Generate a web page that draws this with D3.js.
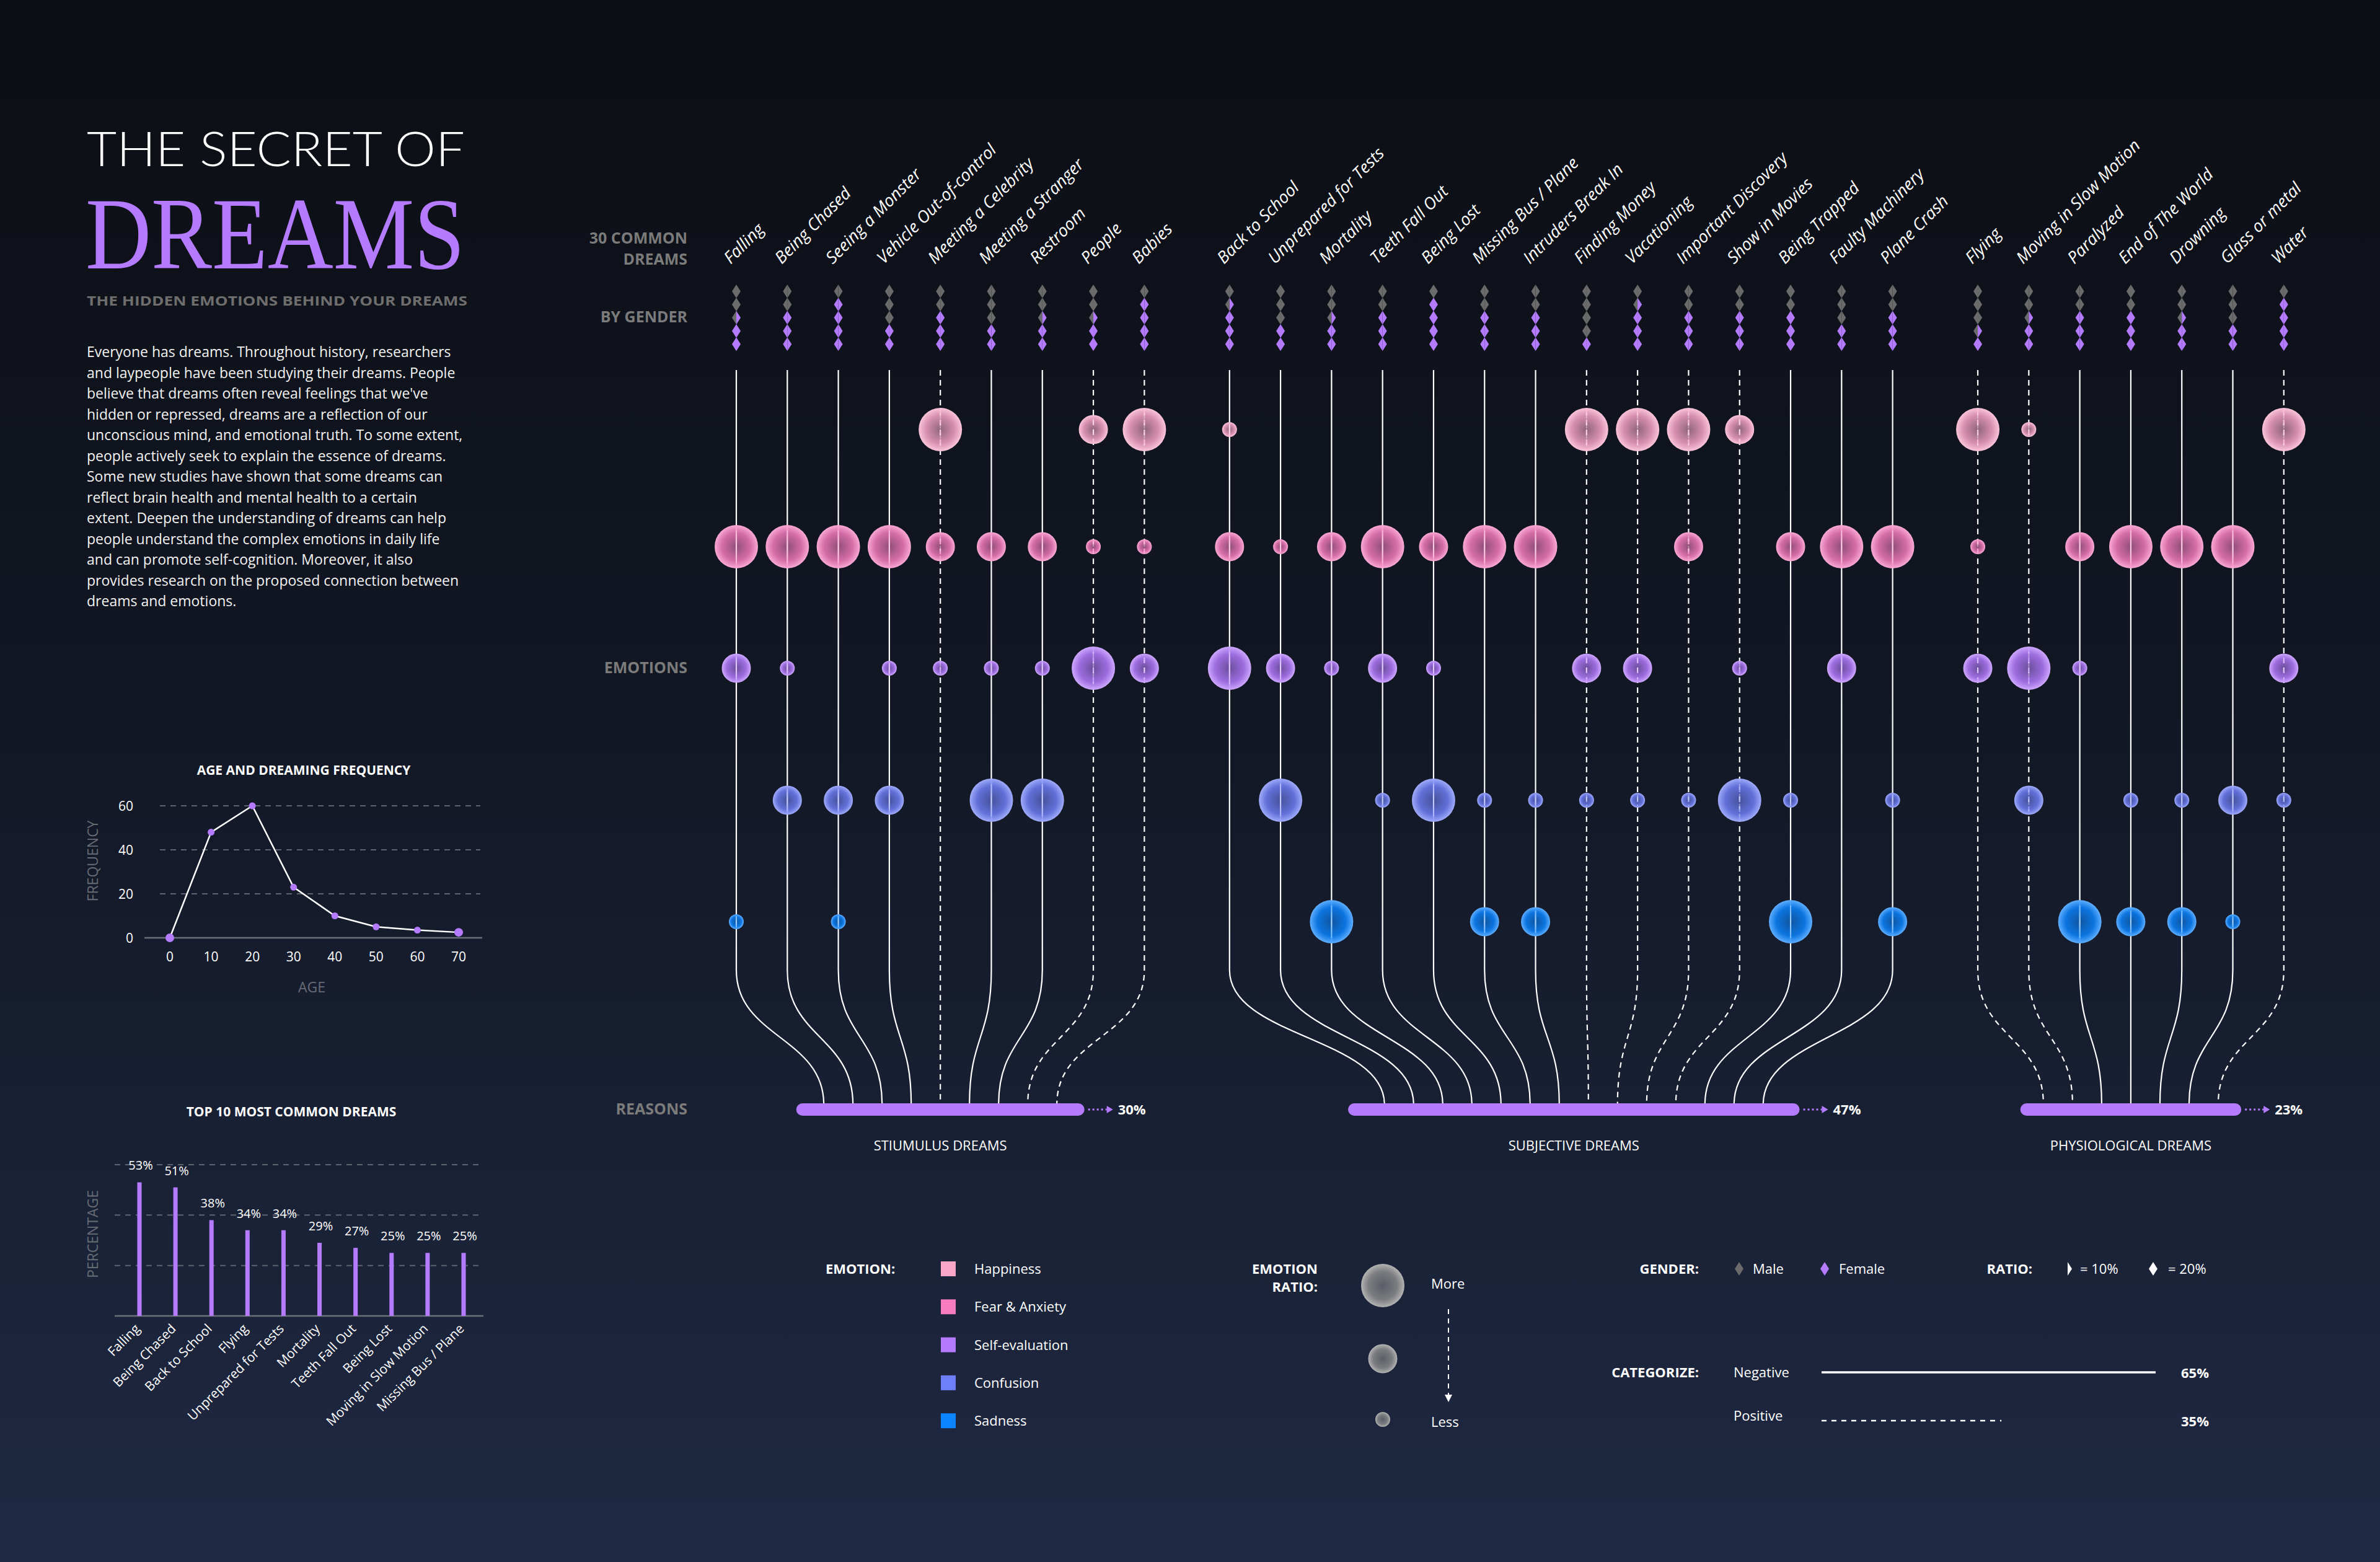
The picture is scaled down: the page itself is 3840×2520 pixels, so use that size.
<!DOCTYPE html>
<html><head><meta charset="utf-8">
<script src="https://cdn.jsdelivr.net/npm/d3@7"></script>
<style>
body{margin:0;background:#0d0f14;}
svg{display:block;}
</style>
</head><body>
<svg id="c" width="3840" height="2520" font-family="'Open Sans', Lato, 'Noto Sans', sans-serif"></svg>
<script>
// ---------------- DATA ----------------
const dreams = ["Falling","Being Chased","Seeing a Monster","Vehicle Out-of-control","Meeting a Celebrity","Meeting a Stranger","Restroom","People","Babies",
  "Back to School","Unprepared for Tests","Mortality","Teeth Fall Out","Being Lost","Missing Bus / Plane","Intruders Break In","Finding Money","Vacationing","Important Discovery","Show in Movies","Being Trapped","Faulty Machinery","Plane Crash",
  "Flying","Moving in Slow Motion","Paralyzed","End of The World","Drowning","Glass or metal","Water"];
const dreamReason = [0,0,0,0,0,0,0,0,0, 1,1,1,1,1,1,1,1,1,1,1,1,1,1, 2,2,2,2,2,2,2];
const malePct = [50,40,20,60,40,60,50,50,20, 30,60,50,40,20,40,40,80,30,40,40,40,60,40, 70,50,40,40,50,60,20];
const positiveDreams = ["Meeting a Celebrity","People","Babies","Finding Money","Vacationing","Important Discovery","Show in Movies","Flying","Moving in Slow Motion","Water"];

const emotions = ["Happiness","Fear & Anxiety","Self-evaluation","Confusion","Sadness"];
const emotionColors = ["#f9a6c8","#f77cbf","#b57bff","#6f7ff7","#0a84ff"];
// emotion ratio level: 0 none, 1 less, 2 medium, 3 more
const happiness  = [0,0,0,0,3,0,0,2,3, 1,0,0,0,0,0,0,3,3,3,2,0,0,0, 3,1,0,0,0,0,3];
const fear       = [3,3,3,3,2,2,2,1,1, 2,1,2,3,2,3,3,0,0,2,0,2,3,3, 1,0,2,3,3,3,0];
const selfEval   = [2,1,0,1,1,1,1,3,2, 3,2,1,2,1,0,0,2,2,0,1,0,2,0, 2,3,1,0,0,0,2];
const confusion  = [0,2,2,2,0,3,3,0,0, 0,3,0,1,3,1,1,1,1,1,3,1,0,1, 0,2,0,1,1,2,1];
const sadness    = [1,0,1,0,0,0,0,0,0, 0,0,3,0,0,2,2,0,0,0,0,3,0,2, 0,0,3,2,2,1,0];
const emotionLevels = [happiness, fear, selfEval, confusion, sadness];

const reasons = ["STIUMULUS DREAMS","SUBJECTIVE DREAMS","PHYSIOLOGICAL DREAMS"];
const reasonPct = [30,47,23];

const ages = [0,10,20,30,40,50,60,70];
const ageFreq = [0,48,60,23,10,5,3.5,2.5];
const freqTicks = [0,20,40,60];

const topDreams = ["Falling","Being Chased","Back to School","Flying","Unprepared for Tests","Mortality","Teeth Fall Out","Being Lost","Moving in Slow Motion","Missing Bus / Plane"];
const topPct = [53,51,38,34,34,29,27,25,25,25];
const pctGrid = [20,40,60];

const categorize = ["Negative","Positive"];
const categorizePct = [65,35];

const paragraph = [
 "Everyone has dreams. Throughout history, researchers",
 "and laypeople have been studying their dreams. People",
 "believe that dreams often reveal feelings that we've",
 "hidden or repressed, dreams are a reflection of our",
 "unconscious mind, and emotional truth. To some extent,",
 "people actively seek to explain the essence of dreams.",
 "Some new studies have shown that some dreams can",
 "reflect brain health and mental health to a certain",
 "extent. Deepen the understanding of dreams can help",
 "people understand the complex emotions in daily life",
 "and can promote self-cognition. Moreover, it also",
 "provides research on the proposed connection between",
 "dreams and emotions."];

// ---------------- SETUP ----------------
const svg = d3.select("#c");
const defs = svg.append("defs");
const PURPLE = "#b57bff", GRAY = "#6b6b6b";

const bg = defs.append("linearGradient").attr("id","bg").attr("x1",0).attr("x2",0).attr("y1",0).attr("y2",1);
bg.append("stop").attr("offset","0%").attr("stop-color","#0c0e13");
bg.append("stop").attr("offset","45%").attr("stop-color","#121724");
bg.append("stop").attr("offset","100%").attr("stop-color","#1f2943");
svg.append("rect").attr("width",3840).attr("height",2520).attr("fill","url(#bg)");

function bubbleGrad(id, col){
  const g = defs.append("radialGradient").attr("id",id);
  g.append("stop").attr("offset","0%").attr("stop-color",col).attr("stop-opacity",0.55);
  g.append("stop").attr("offset","65%").attr("stop-color",col).attr("stop-opacity",0.85);
  g.append("stop").attr("offset","100%").attr("stop-color",d3.interpolateRgb(col,"#ffffff")(0.35)).attr("stop-opacity",1);
}
emotionColors.forEach((c,i)=>bubbleGrad("eg"+i,c));
bubbleGrad("eggray","#8c8c8c");

// ---------------- TITLE BLOCK ----------------
svg.append("text").attr("x",140).attr("y",268).attr("fill","#fff")
  .attr("font-size",76).attr("font-weight",300).attr("font-family","Lato, 'Open Sans', sans-serif")
  .attr("textLength",610).attr("lengthAdjust","spacingAndGlyphs")
  .text("THE SECRET OF");
svg.append("text").attr("x",138).attr("y",433).attr("fill",PURPLE)
  .attr("font-size",166).attr("font-family","'Liberation Serif','DejaVu Serif',serif").attr("font-weight",400)
  .attr("textLength",612).attr("lengthAdjust","spacingAndGlyphs")
  .text("DREAMS");
svg.append("text").attr("x",140).attr("y",493).attr("fill","#6e6e6e")
  .attr("font-size",22).attr("font-weight",700).attr("textLength",614).attr("lengthAdjust","spacingAndGlyphs")
  .text("THE HIDDEN EMOTIONS BEHIND YOUR DREAMS");
svg.append("g").selectAll("text").data(paragraph).join("text")
  .attr("x",140).attr("y",(d,i)=>576+i*33.5).attr("fill","#f2f2f2").attr("font-size",23)
  .text(d=>d);

// ---------------- MAIN CHART ----------------
const slot = dreams.map((d,i)=>i + dreamReason[i]*0.67);
const x = d3.scaleLinear().domain([0,30.33]).range([1188,3684]);
const colX = slot.map(s=>x(s));
const yEmo = d3.scaleOrdinal().domain(emotions).range([693,882,1078,1291,1487]);
const rScale = d3.scaleLinear().domain([1,3]).range([12,35]);
const lineTop = 597, bendY = 1565, barY = 1790, barH = 20;
const pctW = d3.scaleLinear().domain([0,100]).range([0,1550]);
const endSpacing = 47;

// Row labels
const rowLab = svg.append("g").attr("fill","#7b7b7b").attr("font-size",25).attr("font-weight",700).attr("text-anchor","end");
rowLab.append("text").attr("x",1109).attr("y",393).text("30 COMMON");
rowLab.append("text").attr("x",1109).attr("y",427).text("DREAMS");
rowLab.append("text").attr("x",1109).attr("y",520).text("BY GENDER");
rowLab.append("text").attr("x",1109).attr("y",1086).text("EMOTIONS");
rowLab.append("text").attr("x",1109).attr("y",1798).text("REASONS");

// Dream labels
svg.append("g").selectAll("text").data(dreams).join("text")
  .attr("transform",(d,i)=>`translate(${colX[i]-9},${427}) rotate(-45)`)
  .attr("fill","#fff").attr("font-size",27).attr("font-style","italic").text(d=>d);

// Gender diamonds
const gRows = [0,1,2,3,4];
const dw = 7, dh = 11;
const gG = svg.append("g");
dreams.forEach((d,i)=>{
  gRows.forEach(k=>{
    const cy = 470 + k*21.3, cx = colX[i];
    const portion = Math.max(0, Math.min(1, (malePct[i]-k*20)/20));
    gG.append("path").attr("d",`M${cx},${cy-dh}L${cx-dw},${cy}L${cx},${cy+dh}Z`).attr("fill", portion>=0.5?GRAY:PURPLE);
    gG.append("path").attr("d",`M${cx},${cy-dh}L${cx+dw},${cy}L${cx},${cy+dh}Z`).attr("fill", portion>=1?GRAY:PURPLE);
  });
});

// Reason centers & endpoints
const groupIdx = reasons.map((r,g)=>dreams.map((d,i)=>i).filter(i=>dreamReason[i]===g));
const groupCenter = groupIdx.map(ids=>(d3.mean(ids,i=>colX[i]) + colX[ids[Math.floor(ids.length/2)]])/2);
const endX = dreams.map((d,i)=>{
  const g = dreamReason[i], ids = groupIdx[g], j = ids.indexOf(i);
  return groupCenter[g] + (j-(ids.length-1)/2)*endSpacing;
});

// Lines
const lg = svg.append("g").attr("fill","none").attr("stroke","#ffffff").attr("stroke-width",2.2);
dreams.forEach((d,i)=>{
  const x0 = colX[i], xe = endX[i], ye = barY - barH/2 + 2, ym = (bendY+ye)/2;
  const p = d3.path();
  p.moveTo(x0,lineTop); p.lineTo(x0,bendY);
  p.bezierCurveTo(x0,ym,xe,ym,xe,ye);
  lg.append("path").attr("d",p.toString())
    .attr("stroke-dasharray", positiveDreams.includes(d)?"9,7":null);
});

// Bubbles
const bg2 = svg.append("g");
emotions.forEach((e,k)=>{
  const lev = emotionLevels[k];
  const pts = dreams.map((d,i)=>({i,v:lev[i]})).filter(o=>o.v>0);
  bg2.selectAll(null).data(pts).join("circle")
    .attr("cx",o=>colX[o.i]).attr("cy",yEmo(e)).attr("r",o=>rScale(o.v))
    .attr("fill",`url(#eg${k})`);
  bg2.selectAll(null).data(pts).join("line")
    .attr("x1",o=>colX[o.i]).attr("x2",o=>colX[o.i])
    .attr("y1",o=>yEmo(e)-rScale(o.v)*0.75).attr("y2",o=>yEmo(e)+rScale(o.v)*0.75)
    .attr("stroke","#ffffff").attr("stroke-opacity",0.35).attr("stroke-width",2)
    .attr("stroke-dasharray",o=>positiveDreams.includes(dreams[o.i])?"9,7":null);
});

// Reason bars
const rg = svg.append("g");
reasons.forEach((r,g)=>{
  const w = pctW(reasonPct[g]), x0 = groupCenter[g]-w/2;
  rg.append("rect").attr("x",x0).attr("y",barY-barH/2).attr("width",w).attr("height",barH)
    .attr("rx",10).attr("fill",PURPLE);
  const ax = x0+w+6;
  rg.append("line").attr("x1",ax).attr("x2",ax+30).attr("y1",barY).attr("y2",barY)
    .attr("stroke",PURPLE).attr("stroke-width",3).attr("stroke-dasharray","3,4");
  rg.append("path").attr("d",`M${ax+30},${barY-6}L${ax+40},${barY}L${ax+30},${barY+6}Z`).attr("fill",PURPLE);
  rg.append("text").attr("x",ax+48).attr("y",barY+8).attr("fill","#fff").attr("font-size",22).attr("font-weight",700)
    .text(reasonPct[g]+"%");
  rg.append("text").attr("x",groupCenter[g]).attr("y",1856).attr("text-anchor","middle")
    .attr("fill","#fff").attr("font-size",22).text(r);
});

// ---------------- AGE LINE CHART ----------------
const ac = svg.append("g");
ac.append("text").attr("x",490).attr("y",1250).attr("text-anchor","middle").attr("fill","#fff")
  .attr("font-size",21).attr("font-weight",700).text("AGE AND DREAMING FREQUENCY");
const ax = d3.scaleLinear().domain([0,70]).range([274,740]);
const ay = d3.scaleLinear().domain([0,60]).range([1513,1300]);
ac.selectAll(null).data(freqTicks.filter(t=>t>0)).join("line")
  .attr("x1",258).attr("x2",775).attr("y1",d=>ay(d)).attr("y2",d=>ay(d))
  .attr("stroke","#5d6370").attr("stroke-width",2).attr("stroke-dasharray","9,8");
ac.append("line").attr("x1",233).attr("x2",778).attr("y1",ay(0)).attr("y2",ay(0)).attr("stroke","#6a6f7a").attr("stroke-width",2.5);
ac.selectAll(null).data(freqTicks).join("text")
  .attr("x",215).attr("y",d=>ay(d)+8).attr("text-anchor","end").attr("fill","#fff").attr("font-size",21).text(d=>d);
ac.selectAll(null).data(ages).join("text")
  .attr("x",d=>ax(d)).attr("y",1551).attr("text-anchor","middle").attr("fill","#fff").attr("font-size",21).text(d=>d);
ac.append("path").datum(ages.map((a,i)=>[a,ageFreq[i]]))
  .attr("d",d3.line().x(d=>ax(d[0])).y(d=>ay(d[1])))
  .attr("fill","none").attr("stroke","#fff").attr("stroke-width",2.5);
ac.selectAll(null).data(ages).join("circle")
  .attr("cx",d=>ax(d)).attr("cy",(d,i)=>ay(ageFreq[i])).attr("r",(d,i)=>(i===0||i===ages.length-1)?7:5.5)
  .attr("fill",PURPLE);
ac.append("text").attr("transform","translate(158,1389) rotate(-90)").attr("text-anchor","middle")
  .attr("fill","#666b75").attr("font-size",23).text("FREQUENCY");
ac.append("text").attr("x",503).attr("y",1601).attr("text-anchor","middle").attr("fill","#666b75").attr("font-size",23).text("AGE");

// ---------------- TOP 10 BAR CHART ----------------
const bc = svg.append("g");
bc.append("text").attr("x",470).attr("y",1801).attr("text-anchor","middle").attr("fill","#fff")
  .attr("font-size",21).attr("font-weight",700).text("TOP 10 MOST COMMON DREAMS");
const bx = d3.scalePoint().domain(topDreams).range([225,748]);
const by = d3.scaleLinear().domain([0,60]).range([2123,1879]);
bc.selectAll(null).data(pctGrid).join("line")
  .attr("x1",185).attr("x2",780).attr("y1",d=>by(d)).attr("y2",d=>by(d))
  .attr("stroke","#5d6370").attr("stroke-width",2).attr("stroke-dasharray","9,8");
bc.append("line").attr("x1",185).attr("x2",780).attr("y1",by(0)).attr("y2",by(0)).attr("stroke","#6a6f7a").attr("stroke-width",2.5);
bc.selectAll(null).data(topDreams).join("rect")
  .attr("x",d=>bx(d)-3.5).attr("width",7).attr("y",(d,i)=>by(topPct[i])).attr("height",(d,i)=>by(0)-by(topPct[i]))
  .attr("fill",PURPLE);
bc.selectAll(null).data(topDreams).join("text")
  .attr("x",d=>bx(d)+2).attr("y",(d,i)=>by(topPct[i])-20).attr("text-anchor","middle")
  .attr("fill","#fff").attr("font-size",20).text((d,i)=>topPct[i]+"%");
bc.selectAll(null).data(topDreams).join("text")
  .attr("transform",d=>`translate(${bx(d)+2},${2145}) rotate(-45)`).attr("text-anchor","end")
  .attr("fill","#fff").attr("font-size",21).text(d=>d);
bc.append("text").attr("transform","translate(158,1991) rotate(-90)").attr("text-anchor","middle")
  .attr("fill","#666b75").attr("font-size",23).text("PERCENTAGE");

// ---------------- LEGENDS ----------------
const lgd = svg.append("g");
const bold = (t,x,y,anchor)=>lgd.append("text").attr("x",x).attr("y",y).attr("text-anchor",anchor||"start")
  .attr("fill","#fff").attr("font-size",22).attr("font-weight",700).text(t);
const norm = (t,x,y)=>lgd.append("text").attr("x",x).attr("y",y).attr("fill","#fff").attr("font-size",22).text(t);

bold("EMOTION:",1332,2055);
emotions.forEach((e,k)=>{
  const y = 2047 + k*61.3;
  lgd.append("rect").attr("x",1518).attr("y",y-12).attr("width",24).attr("height",24).attr("fill",emotionColors[k]);
  norm(e,1572,y+8);
});

bold("EMOTION",2126,2055,"end");
bold("RATIO:",2126,2084,"end");
const legR = [3,2,1], legRY = [2074,2192,2290];
legR.forEach((v,i)=>lgd.append("circle").attr("cx",2231).attr("cy",legRY[i]).attr("r",rScale(v)).attr("fill","url(#eggray)"));
norm("More",2309,2079);
norm("Less",2309,2302);
lgd.append("line").attr("x1",2337).attr("x2",2337).attr("y1",2112).attr("y2",2250)
  .attr("stroke","#fff").attr("stroke-width",2).attr("stroke-dasharray","8,7");
lgd.append("path").attr("d","M2331,2250L2343,2250L2337,2262Z").attr("fill","#fff");

bold("GENDER:",2741,2055,"end");
const dia = (cx,cy,col,half)=>{
  if(!half) lgd.append("path").attr("d",`M${cx},${cy-dh}L${cx-dw},${cy}L${cx},${cy+dh}Z`).attr("fill",col);
  lgd.append("path").attr("d",`M${cx},${cy-dh}L${cx+dw},${cy}L${cx},${cy+dh}Z`).attr("fill",col);
};
dia(2806,2047,GRAY); norm("Male",2828,2055);
dia(2944,2047,PURPLE); norm("Female",2967,2055);
bold("RATIO:",3279,2055,"end");
dia(3336,2047,"#fff",true); norm("= 10%",3356,2055);
dia(3474,2047,"#fff"); norm("= 20%",3498,2055);

bold("CATEGORIZE:",2741,2222,"end");
const catY = [2214,2292];
const catW = d3.scaleLinear().domain([0,65]).range([0,539]);
categorize.forEach((c,i)=>{
  norm(c,2797,catY[i]+ (i===0?8:0));
  lgd.append("line").attr("x1",2939).attr("x2",2939+catW(categorizePct[i])).attr("y1",catY[i]).attr("y2",catY[i])
    .attr("stroke","#fff").attr("stroke-width",i===0?3.5:2.5).attr("stroke-dasharray",i===0?null:"8,8");
  bold(categorizePct[i]+"%",3519,catY[i]+9);
});
</script>
</body></html>
